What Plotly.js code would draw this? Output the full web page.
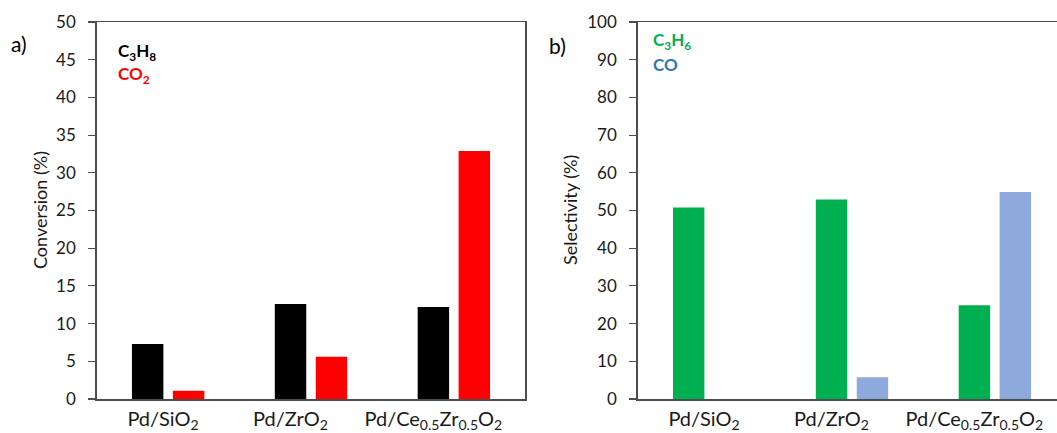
<!DOCTYPE html>
<html>
<head>
<meta charset="utf-8">
<script src="https://cdn.plot.ly/plotly-3.0.1.min.js"></script>
<style>html,body{margin:0;padding:0;background:#fff;}#chart{width:1057px;height:433px;}</style>
</head>
<body>
<div id="chart"></div>
<script>
const categories = ["Pd/SiO<sub>2</sub>\u00A0\u00A0", "Pd/ZrO<sub>2</sub>\u00A0\u00A0\u00A0\u00A0\u00A0\u00A0\u00A0\u00A0", "Pd/Ce<sub>0.5</sub>Zr<sub>0.5</sub>O<sub>2</sub>\u00A0\u00A0\u00A0\u00A0\u00A0\u00A0\u00A0\u00A0"];
const convC3H8 = [7.3, 12.6, 12.2];
const convCO2 = [1.1, 5.6, 32.9];
const selC3H6 = [50.8, 52.9, 24.9];
const selCO = [0, 5.8, 54.9];

const W = 1057, H = 433;
const plotTop = 22, plotBottom = 399;
const px = v => v / W;
const py = v => (plotBottom - v) / (plotBottom - plotTop);
const FONT = "Lato, 'Open Sans', sans-serif";

const traces = [
  {type: "bar", x: categories, y: convC3H8, xaxis: "x", yaxis: "y", marker: {color: "#000000"}, name: "C3H8"},
  {type: "bar", x: categories, y: convCO2, xaxis: "x", yaxis: "y", marker: {color: "#FF0000"}, name: "CO2"},
  {type: "bar", x: categories, y: selC3H6, xaxis: "x2", yaxis: "y2", marker: {color: "#00B050"}, name: "C3H6"},
  {type: "bar", x: categories, y: selCO, xaxis: "x2", yaxis: "y2", marker: {color: "#8EA9DB"}, name: "CO"}
];

const lineC = "#4d4d4d";
const axBase = {
  showline: true, linecolor: lineC, linewidth: 1.5, showgrid: false, zeroline: false,
  tickfont: {family: FONT, size: 17, color: "#1a1a1a"}
};
const xBase = Object.assign({}, axBase, {
  type: "category", ticks: "", tickangle: 0, tickfont: {family: FONT, size: 20, color: "#1a1a1a"}, mirror: true, fixedrange: true,
  ticklabelstandoff: 1
});
const yBase = Object.assign({}, axBase, {ticks: "outside", ticklen: 7, tickcolor: lineC, tickwidth: 1.2, fixedrange: true, ticklabelstandoff: 9});

const catW = (525.3 - 96.7) / 3;
const bRight = -0.5 + (W - 637.7) / catW;

const ann = (text, x, y, size, color, extra) => Object.assign({
  text: text, xref: "paper", yref: "paper", x: px(x), y: py(y), xanchor: "center", yanchor: "middle",
  showarrow: false, font: {family: FONT, size: size, color: color}
}, extra || {});

const layout = {
  width: W, height: H,
  margin: {l: 0, r: 0, t: plotTop, b: H - plotBottom},
  paper_bgcolor: "#fff", plot_bgcolor: "#fff",
  showlegend: false,
  barmode: "group", bargap: 0.427, bargroupgap: 0.232,
  xaxis: Object.assign({}, xBase, {domain: [px(96.7), px(525.3)], range: [-0.5, 2.5], anchor: "y"}),
  yaxis: Object.assign({}, yBase, {domain: [0, 1], range: [0, 50], dtick: 5, mirror: true, anchor: "x"}),
  xaxis2: Object.assign({}, xBase, {domain: [px(637.7), 1], range: [-0.5, bRight], anchor: "y2"}),
  yaxis2: Object.assign({}, yBase, {domain: [0, 1], range: [0, 100], dtick: 10, mirror: false, anchor: "x2"}),
  annotations: [
    ann("a)", 18.5, 43, 21, "#000"),
    ann("b)", 557.5, 45, 21, "#000"),
    ann("Conversion (%)", 40, 210, 18, "#1a1a1a", {textangle: -90}),
    ann("Selectivity (%)", 570, 210, 18, "#1a1a1a", {textangle: -90}),
    ann("<b>C<sub>3</sub>H<sub>8</sub></b>", 116, 52, 17, "#000000", {xanchor: "left"}),
    ann("<b>CO<sub>2</sub></b>", 116, 75, 17, "#FF0000", {xanchor: "left"}),
    ann("<b>C<sub>3</sub>H<sub>6</sub></b>", 651, 41, 17, "#00B050", {xanchor: "left"}),
    ann("<b>CO</b>", 651, 64, 17, "#2E75B6", {xanchor: "left"})
  ]
};

Plotly.newPlot("chart", traces, layout, {displayModeBar: false, staticPlot: true});
</script>
</body>
</html>
